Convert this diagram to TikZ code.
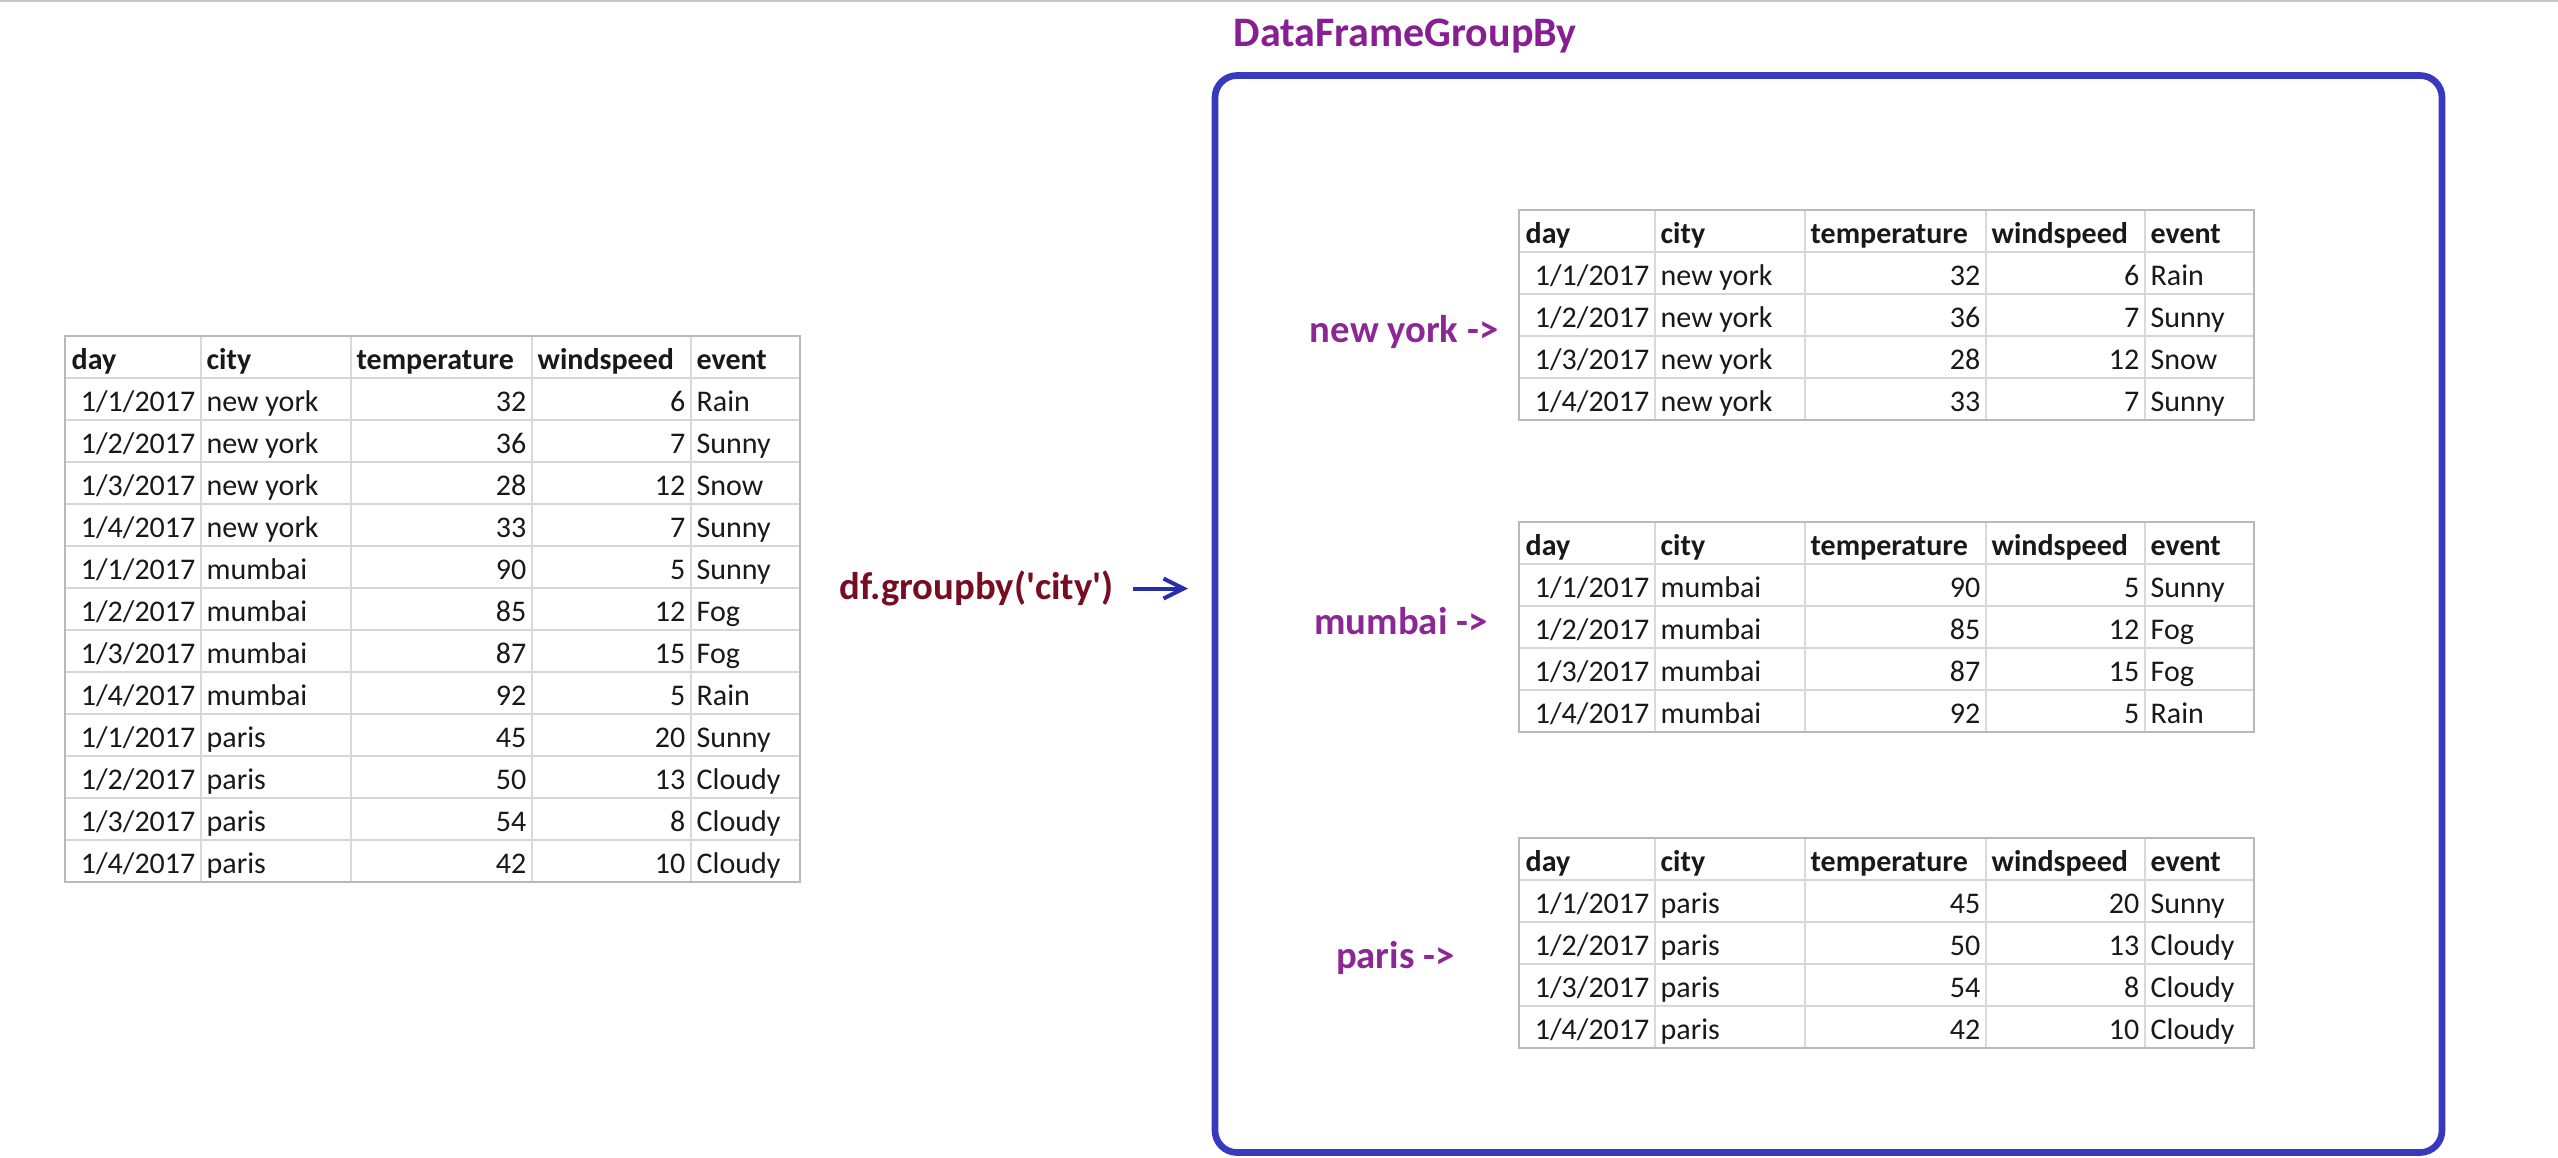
\documentclass[tikz,border=0pt]{standalone}
\usepackage{fontspec}
\setmainfont{Carlito}
\usetikzlibrary{arrows.meta}
\definecolor{lblpurple}{RGB}{140,40,150}
\definecolor{titlepurple}{RGB}{135,30,145}
\definecolor{gbred}{RGB}{120,12,32}
\definecolor{boxblue}{RGB}{55,58,190}
\definecolor{arrblue}{RGB}{40,45,170}
\definecolor{txt}{RGB}{25,25,25}
\newcommand\tabfont{\fontsize{9}{11}\selectfont}
\tikzset{
  hdr/.style={anchor=mid west, inner sep=0pt, yshift=-1.4pt, text=txt, font=\tabfont\bfseries},
  cl/.style={anchor=mid west, inner sep=0pt, yshift=-1.4pt, text=txt, font=\tabfont},
  cr/.style={anchor=mid east, inner sep=0pt, yshift=-1.4pt, text=txt, font=\tabfont},
  grp/.style={anchor=mid east, inner sep=0pt, yshift=-1.4pt, text=lblpurple, font=\fontsize{11.6}{14}\selectfont\bfseries},
  gridrow/.style={draw=gray!32, line width=0.8pt},
  gridcol/.style={draw=gray!30, line width=0.45pt},
  gridout/.style={draw=gray!55, line width=0.7pt},
  arr/.style={draw=arrblue, line width=1.2pt, -{Straight Barb[length=6pt,width=6pt,line width=1.2pt]}},
  groupbox/.style={draw=boxblue, line width=2pt, rounded corners=6.6pt, inner sep=0pt},
}
% rows: day number / city / temperature / windspeed / event
\newcommand\mytable[5]{%
  \begin{scope}[shift={(#2,#3)}]
    \foreach \kk in {1,...,#5} \draw[gridrow] (0,42*\kk) -- (735,42*\kk);
    \foreach \cx in {136,286,467,626} \draw[gridcol] (\cx,0) -- (\cx,{42*(#5+1)});
    \draw[gridout] (0,0) rectangle (735,{42*(#5+1)});
    \node[hdr] (#1-0-1) at (6,21) {day};
    \node[hdr] (#1-0-2) at (141,21) {city};
    \node[hdr] (#1-0-3) at (291,21) {temperature};
    \node[hdr] (#1-0-4) at (472,21) {windspeed};
    \node[hdr] (#1-0-5) at (631,21) {event};
    \foreach \a/\b/\c/\d/\e [count=\r] in {#4} {
      \node[cr] (#1-\r-1) at (131,42*\r+21) {1/\a/2017};
      \node[cl] (#1-\r-2) at (141,42*\r+21) {\b};
      \node[cr] (#1-\r-3) at (462,42*\r+21) {\c};
      \node[cr] (#1-\r-4) at (621,42*\r+21) {\d};
      \node[cl] (#1-\r-5) at (631,42*\r+21) {\e};
    }
  \end{scope}}
\begin{document}
\begin{tikzpicture}[x=0.3pt,y=-0.3pt]
  \useasboundingbox[fill=white] (0,0) rectangle (2558,1157);
  \draw[gray!45, line width=0.6pt] (0,1) -- (2558,1);

  % source table
  \mytable{src}{65}{336}{%
    1/new york/32/6/Rain,
    2/new york/36/7/Sunny,
    3/new york/28/12/Snow,
    4/new york/33/7/Sunny,
    1/mumbai/90/5/Sunny,
    2/mumbai/85/12/Fog,
    3/mumbai/87/15/Fog,
    4/mumbai/92/5/Rain,
    1/paris/45/20/Sunny,
    2/paris/50/13/Cloudy,
    3/paris/54/8/Cloudy,
    4/paris/42/10/Cloudy}{12}

  % groupby call and arrow
  \node[anchor=mid west, inner sep=0pt, yshift=-1.4pt, text=gbred, font=\fontsize{11.6}{14}\selectfont\bfseries] (gb) at (839,587) {df.groupby(\textquotesingle city\textquotesingle)};
  \coordinate (arrowtip) at (1188,589);
  \draw[arr] ([xshift=5.7pt]gb.east) -- (gb.east -| arrowtip);

  % group box
  \node[groupbox, minimum width=368.1pt, minimum height=323.1pt] (box) at (1828.5,614) {};
  \node[anchor=mid west, inner sep=0pt, yshift=-1.4pt, text=titlepurple, font=\fontsize{12.6}{15}\selectfont\bfseries] (title) at (1233,34) {DataFrameGroupBy};

  % groups
  \node[grp] (lny) at (1499,330) {new york ->};
  \mytable{ny}{1519}{210}{%
    1/new york/32/6/Rain,
    2/new york/36/7/Sunny,
    3/new york/28/12/Snow,
    4/new york/33/7/Sunny}{4}

  \node[grp] (lmu) at (1488,622) {mumbai ->};
  \mytable{mu}{1519}{522}{%
    1/mumbai/90/5/Sunny,
    2/mumbai/85/12/Fog,
    3/mumbai/87/15/Fog,
    4/mumbai/92/5/Rain}{4}

  \node[grp] (lpa) at (1455,956) {paris ->};
  \mytable{pa}{1519}{838}{%
    1/paris/45/20/Sunny,
    2/paris/50/13/Cloudy,
    3/paris/54/8/Cloudy,
    4/paris/42/10/Cloudy}{4}
\end{tikzpicture}
\end{document}
